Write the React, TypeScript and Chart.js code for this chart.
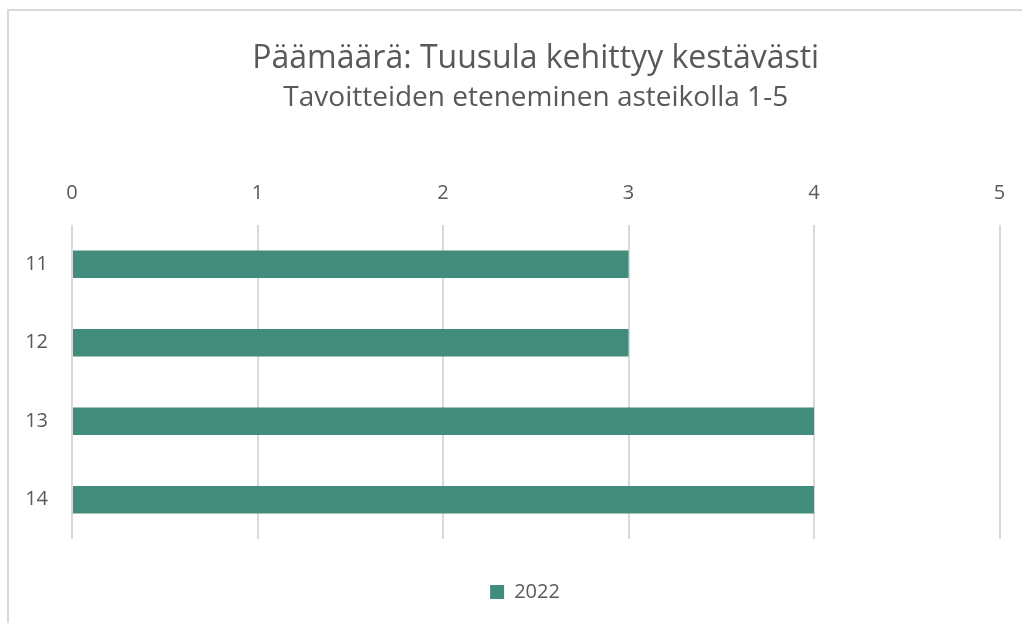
import React, { useEffect, useRef } from "react";
import { Chart, registerables } from "chart.js";

Chart.register(...registerables);

const categories = ["11", "12", "13", "14"];
const values2022 = [3, 3, 4, 4];
const seriesLabel = "2022";
const titleText = "Päämäärä: Tuusula kehittyy kestävästi";
const subtitleText = "Tavoitteiden eteneminen asteikolla 1-5";

const FONT = "'Open Sans', Lato, sans-serif";
const TEXT = "#595959";

const recenter = {
  id: "recenter",
  afterLayout(chart: any) {
    const ca = chart.chartArea;
    for (const b of chart.boxes) {
      const t = b?.options?.text;
      if (t === titleText || t === subtitleText) {
        b.left = ca.left;
        b.right = ca.right;
      }
    }
    const lg = chart.legend;
    if (lg) {
      const shift = 525 - (lg.left + lg.right) / 2;
      lg.left += shift;
      lg.right += shift;
    }
  },
};

export default function App() {
  const ref = useRef<HTMLCanvasElement>(null);
  useEffect(() => {
    document.body.style.margin = "0";
    document.body.style.overflow = "hidden";
    const chart = new Chart(ref.current!, {
      type: "bar",
      data: {
        labels: categories,
        datasets: [
          {
            label: seriesLabel,
            data: values2022,
            backgroundColor: "#428C7B",
            borderWidth: 0,
            barPercentage: 0.35,
            categoryPercentage: 1,
          },
        ],
      },
      plugins: [recenter],
      options: {
        indexAxis: "y",
        animation: false,
        responsive: false,
        maintainAspectRatio: false,
        layout: { padding: { left: 0, right: 22.5, top: 0, bottom: 11 } },
        plugins: {
          title: {
            display: true,
            text: titleText,
            color: TEXT,
            font: { family: FONT, size: 32, weight: "normal" },
            padding: { top: 40, bottom: 0 },
          },
          subtitle: {
            display: true,
            text: subtitleText,
            color: TEXT,
            font: { family: FONT, size: 28, weight: "normal" },
            padding: { top: 3, bottom: 0 },
          },
          legend: {
            display: true,
            position: "bottom",
            labels: {
              color: TEXT,
              font: { family: FONT, size: 20 },
              boxWidth: 14,
              boxHeight: 14,
              padding: 43,
            },
          },
          tooltip: { enabled: false },
        },
        scales: {
          x: {
            position: "top",
            min: 0,
            max: 5,
            ticks: {
              stepSize: 1,
              color: TEXT,
              font: { family: FONT, size: 20 },
              padding: 20,
            },
            grid: { color: "#d9d9d9", lineWidth: 2, drawTicks: false },
            border: { display: false },
            afterFit: (s: any) => {
              s.height = 110;
              s.paddingRight = 0;
              s.paddingLeft = 0;
            },
          },
          y: {
            ticks: {
              color: TEXT,
              font: { family: FONT, size: 20 },
              padding: 24,
            },
            grid: { display: false, drawTicks: false },
            border: { display: false },
            afterFit: (s: any) => {
              s.width = 72;
              s.paddingTop = 0;
              s.paddingBottom = 0;
            },
          },
        },
      },
    });
    return () => chart.destroy();
  }, []);
  return (
    <div style={{ position: "fixed", left: 0, top: 0, width: 1022, height: 623, background: "#fff" }}>
      <div
        style={{
          position: "absolute",
          left: 7,
          top: 9,
          width: 1100,
          height: 700,
          borderTop: "2px solid #d9d9d9",
          borderLeft: "2px solid #d9d9d9",
          boxSizing: "border-box",
        }}
      />
      <canvas ref={ref} width={1022} height={623} style={{ position: "absolute", left: 0, top: 0 }} />
    </div>
  );
}
